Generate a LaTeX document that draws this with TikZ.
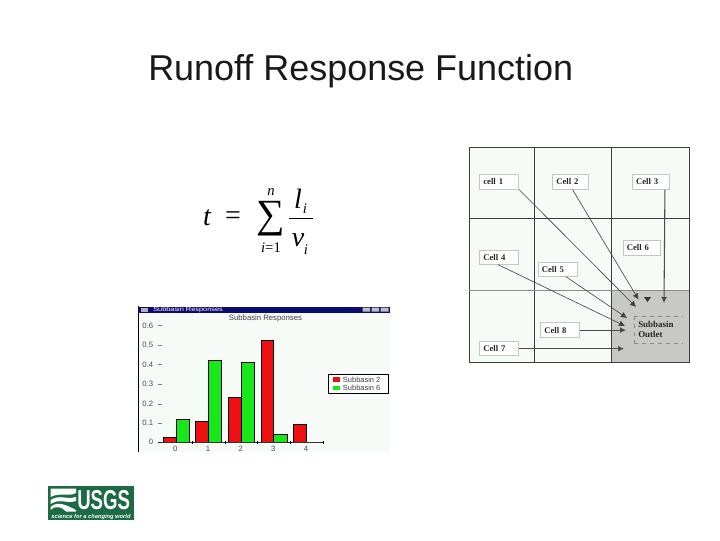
\documentclass[tikz,border=0pt]{standalone}
\usepackage{fontspec}
\usepackage{graphicx}
\setmainfont{Liberation Sans}
\newfontfamily\tms{Liberation Serif}
\definecolor{pale}{HTML}{F6FBF7}
\definecolor{usgsgreen}{HTML}{1C6B45}
\definecolor{gridline}{HTML}{3A3F3A}
\definecolor{outletgray}{HTML}{C8C8C4}
\definecolor{boxedge}{HTML}{C4C8C4}
\definecolor{tbar}{HTML}{0A0A70}
\definecolor{barred}{HTML}{EE1010}
\definecolor{bargreen}{HTML}{18E818}
\usetikzlibrary{arrows.meta}
\tikzset{
  cellbox/.style={draw=boxedge,line width=0.7pt,fill=white,inner xsep=2.7pt,inner ysep=0pt,text width=#1pt-5.4pt,align=left,anchor=north west,font=\tms\bfseries\fontsize{6.5}{7}\selectfont,text=black!85},
  flow/.style={draw=black!75,line width=0.45pt,-{Latex[length=4.5pt,width=4.5pt]}},
  flowb/.style={draw=black!70,line width=0.8pt,-{Latex[length=4.5pt,width=4.5pt]}},
  ticktxt/.style={font=\fontsize{5.8}{6}\selectfont,text=black!70,inner sep=0pt},
  barr/.style={fill=barred,draw=black,line width=0.35pt},
  barg/.style={fill=bargreen,draw=black,line width=0.35pt},
  mathtxt/.style={inner sep=0pt,font=\tms\itshape\fontsize{21}{24}\selectfont},
  smalltxt/.style={inner sep=0pt,font=\tms\itshape\fontsize{11}{12}\selectfont},
  legtxt/.style={anchor=west,inner sep=0pt,font=\fontsize{5.6}{6}\selectfont,text=black!75}
}
\begin{document}
\begin{tikzpicture}[x=0.75pt,y=-0.75pt]
\useasboundingbox (0,0) rectangle (720,540);
\fill[white] (0,0) rectangle (720,540);
% title
\node[anchor=base west,inner sep=0pt,font=\fontsize{26.95}{30}\selectfont,text=black!90] (title) at (148,80) {Runoff Response Function};
% formula
\node[mathtxt] (ft) at (207,218) {t};
\node[inner sep=0pt,font=\tms\fontsize{21}{24}\selectfont] (feq) at (233,218) {=};
\node[inner sep=0pt,font=\tms\fontsize{30}{34}\selectfont] (fsum) at (271,219) {∑};
\node[smalltxt] (fn) at (271,192.5) {n};
\node[inner sep=0pt,font=\tms\fontsize{11}{12}\selectfont] (flow) at (271,248) {\textit{i}=1};
\node[mathtxt] (fl) at (298,199) {l};
\node[smalltxt] (fli) at (305,209) {i};
\node[mathtxt] (fv) at (298,240) {v};
\node[smalltxt] (fvi) at (306,250) {i};
\draw[line width=0.6pt] (289,218) -- (313,218);
% grid
\fill[pale] (469,147) rectangle (689,362);
\fill[outletgray] (611,290) rectangle (689,362);
\draw[gridline,line width=0.7pt] (469,147) rectangle (689,362);
\draw[gridline,line width=0.7pt] (534,147) -- (534,362) (611,147) -- (611,362) (469,218) -- (689,218);
\draw[gridline!60,line width=0.5pt] (469,290) -- (689,290);
\node[cellbox=29.2,minimum height=10.8pt] (c1) at (479.3,174.3) {cell 1};
\node[cellbox=27,minimum height=10.8pt] (c2) at (552.3,174.3) {Cell 2};
\node[cellbox=28,minimum height=10.8pt] (c3) at (632,174.3) {Cell 3};
\node[cellbox=28,minimum height=10.8pt] (c6) at (622.7,240.3) {Cell 6};
\node[cellbox=28.8,minimum height=10.5pt] (c4) at (479.3,249.7) {Cell 4};
\node[cellbox=29.2,minimum height=10pt] (c5) at (537.7,262.3) {Cell 5};
\node[cellbox=28.8,minimum height=11pt] (c8) at (540.3,322.3) {Cell 8};
\node[cellbox=29.2,minimum height=10.3pt] (c7) at (479.3,341.3) {Cell 7};
\node[anchor=north west,inner xsep=3pt,inner ysep=0pt,text width=30.5pt,minimum height=20pt,align=left,font=\tms\bfseries\fontsize{6.7}{8}\selectfont,text=black!85] (out) at (634,316) {Subbasin\\Outlet};
\draw[boxedge!70!black,line width=0.4pt,dashed] (out.north west) -- (out.north east) (out.south west) -- (out.south east) (out.north west) -- (out.south west);
\coordinate (a1) at (636,307);
\coordinate (a2) at (638.5,299.5);
\coordinate (a3) at (664,303);
\coordinate (a4) at (625,326);
\coordinate (a5) at (627,318);
\coordinate (a8) at (626,330);
\coordinate (a7) at (624,349.7);
\draw[flow] (c1.south east) -- (a1);
\draw[flow] ([xshift=-12.5pt]c2.south east) -- (a2);
\draw[flowb] ([xshift=-4pt]c3.south east) -- (a3);
\draw[flow] ([xshift=14pt]c4.south west) -- (a4);
\draw[flow] ([xshift=21pt]c5.south west) -- (a5);
\draw[flowb] (c8.east) -- (c8.east -| a8);
\draw[flowb] (c7.east) -- (c7.east -| a7);
\fill[black!80] (644,297) -- (651,297) -- (647.5,302) -- cycle;
% chart window
\fill[white] (138,306) rectangle (390,452);
\fill[pale] (139,312) rectangle (390,452);
\draw[black,line width=0.6pt] (138,306) -- (138,452);
\fill[tbar] (138,306.5) rectangle (390,312.5);
\node[anchor=west,inner sep=0pt,font=\fontsize{4.6}{5}\selectfont,text=white] (wt) at (153,309.6) {\scalebox{1.2}[1]{Subbasin Responses}};
\fill[black!25] (362.5,307.5) rectangle (370,311.5) (371.5,307.5) rectangle (379,311.5) (380.5,307.5) rectangle (388.5,311.5);
\fill[black!30] (141,307.5) rectangle (148,311.5);
\node[inner sep=0pt,font=\fontsize{5.8}{6}\selectfont,text=black!75] (ct) at (265.5,318.3) {Subbasin Responses};
% bars
\draw[barr] (163.3,442.3) rectangle (176,437);
\draw[barg] (176,442.3) rectangle (189,419.3);
\draw[barr] (195.7,442.3) rectangle (208.7,421.7);
\draw[barg] (208.7,442.3) rectangle (221.7,360);
\draw[barr] (228.3,442.3) rectangle (241.3,397);
\draw[barg] (241.3,442.3) rectangle (254.3,362.7);
\draw[barr] (261,442.3) rectangle (273.7,340.7);
\draw[barg] (273.7,442.3) rectangle (287,434.7);
\draw[barr] (293.7,442.3) rectangle (306.7,424);
% axis
\draw[black!80,line width=0.5pt] (158.3,442.3) -- (323.3,442.3);
\foreach \x in {192.5,225,257.5,290,323} \draw[black,line width=0.5pt] (\x,440.5) -- (\x,444);
\foreach \v/\y in {0.6/325.7,0.5/345.3,0.4/364.7,0.3/384.3,0.2/404,0.1/423.3}{
  \node[ticktxt,anchor=east] at (153.5,\y) {\v};
  \draw[black!50,line width=0.4pt] (158,\y) -- (161.5,\y);
}
\node[ticktxt,anchor=east] at (153.5,442.3) {0};
\foreach \v/\x in {0/175.3,1/208,2/240.7,3/273.3,4/306}
  \node[ticktxt] at (\x,448.5) {\v};
% legend
\draw[black,fill=white,line width=0.5pt] (328.3,374) rectangle (388.3,393.3);
\fill[barred] (333,377) rectangle (340,381.7);
\fill[bargreen] (333,385.5) rectangle (340,390);
\node[legtxt] (l1) at (342.7,379.4) {Subbasin 2};
\node[legtxt] (l2) at (342.7,388) {Subbasin 6};
% logo
\fill[usgsgreen] (48,486) rectangle (134,520);
\fill[white] (50.5,488.5) -- (76,488.5) -- (76,493) .. controls (68,497) and (60,492) .. (50.5,497) -- cycle;
\fill[white] (50.5,500) .. controls (60,494) and (66,500) .. (76,497) -- (76,501) .. controls (66,504) and (60,498) .. (50.5,504) -- cycle;
\fill[white] (50.5,507) .. controls (58,500) and (68,506) .. (76,510) -- (76,511.5) -- (66,511.5) .. controls (62,507) and (56,505) .. (50.5,510) -- cycle;
\node[anchor=base west,inner sep=0pt,font=\bfseries\fontsize{20.5}{22}\selectfont,text=white] (usgs) at (77,509.5) {\scalebox{0.68}[1]{USGS}};
\node[anchor=base,inner sep=0pt,font=\bfseries\itshape\fontsize{4.3}{5}\selectfont,text=white] (tag) at (91,518) {science for a changing world};
\end{tikzpicture}
\end{document}
